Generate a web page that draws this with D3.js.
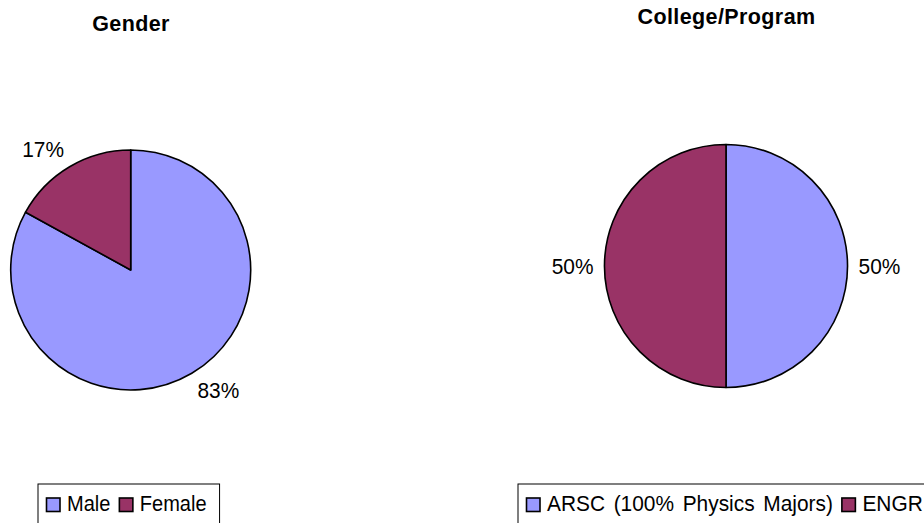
<!DOCTYPE html>
<html>
<head>
<meta charset="utf-8">
<script src="https://cdn.jsdelivr.net/npm/d3@7"></script>
<style>
  html, body { margin: 0; padding: 0; background: #ffffff; }
  svg { display: block; font-family: "Liberation Sans", Arial, sans-serif; }
</style>
</head>
<body>
<svg id="chart" width="924" height="523"></svg>
<script>
// ---- data ----
const genderTitle = "Gender";
const genderCategories = ["Male", "Female"];
const genderValues = [83, 17];

const collegeTitle = "College/Program";
const collegeCategories = ["ARSC (100% Physics Majors)", "ENGR"];
const collegeValues = [50, 50];

const sliceColors = ["#9999FF", "#993366"];

// ---- layout ----
const charts = [
  { title: genderTitle, cats: genderCategories, vals: genderValues,
    cx: 130.7, cy: 270, r: 120, titleX: 131, titleY: 31,
    legX: 38, legY: 484, legScale: 0.91 },
  { title: collegeTitle, cats: collegeCategories, vals: collegeValues,
    cx: 726, cy: 266, r: 121.5, titleX: 726.5, titleY: 23.5,
    legX: 518, legY: 484, legScale: 0.95 }
];

const svg = d3.select("#chart");
const color = d3.scaleOrdinal().range(sliceColors);
const pie = d3.pie().sort(null).value(d => d.v);

const labelFont = 22, labelScale = 0.95, capH = 15.7;
const legendFont = 22;

charts.forEach(c => {
  const data = c.cats.map((k, i) => ({ k, v: c.vals[i] }));
  const total = d3.sum(c.vals);
  color.domain(c.cats);
  const g = svg.append("g").attr("transform", `translate(${c.cx},${c.cy})`);
  const arc = d3.arc().innerRadius(0).outerRadius(c.r);
  const arcs = pie(data);

  g.selectAll("path").data(arcs).join("path")
    .attr("d", arc)
    .attr("fill", d => color(d.data.k))
    .attr("stroke", "#000")
    .attr("stroke-width", 1.6)
    .attr("stroke-linejoin", "round");

  // labels outside
  const gap = 11;
  const labArc = d3.arc().innerRadius(c.r + gap).outerRadius(c.r + gap);
  arcs.forEach(d => {
    const a = (d.startAngle + d.endAngle) / 2;
    const [ax, ay] = labArc.centroid(d);
    const lg = g.append("g");
    const t = lg.append("text")
      .attr("font-size", labelFont)
      .attr("text-anchor", "middle")
      .attr("fill", "#000")
      .text(Math.round(d.data.v / total * 100) + "%");
    const w = t.node().getComputedTextLength() * labelScale;
    const sx = Math.abs(Math.sin(a)) < 1e-6 ? 0 : Math.sign(Math.sin(a));
    const sy = Math.abs(Math.cos(a)) < 1e-6 ? 0 : Math.sign(-Math.cos(a));
    const x = ax + sx * w / 2;
    const yc = ay + sy * capH / 2;
    lg.attr("transform", `translate(${x},${yc + capH / 2}) scale(${labelScale},1)`);
  });

  // title
  svg.append("text")
    .attr("x", c.titleX).attr("y", c.titleY)
    .attr("text-anchor", "middle")
    .attr("font-size", 21.5)
    .attr("font-weight", "bold")
    .attr("letter-spacing", 0.4)
    .attr("fill", "#000")
    .text(c.title);

  // legend
  const lg = svg.append("g").attr("transform", `translate(${c.legX},${c.legY})`);
  const box = lg.append("rect")
    .attr("x", 0).attr("y", 0).attr("height", 50)
    .attr("fill", "#fff").attr("stroke", "#000").attr("stroke-width", 1);
  let x = 8.5;
  c.cats.forEach((k, i) => {
    lg.append("rect")
      .attr("x", x).attr("y", 14).attr("width", 13.5).attr("height", 13.5)
      .attr("fill", color(k)).attr("stroke", "#000").attr("stroke-width", 1.6);
    const tg = lg.append("g")
      .attr("transform", `translate(${x + 20.5},26.5) scale(${c.legScale},1)`);
    const t = tg.append("text")
      .attr("font-size", legendFont)
      .attr("word-spacing", 3)
      .attr("fill", "#000")
      .text(k);
    const w = t.node().getBBox().width * c.legScale;
    x = x + 20.5 + w + 9;
  });
  box.attr("width", x + 4);
});
</script>
</body>
</html>
